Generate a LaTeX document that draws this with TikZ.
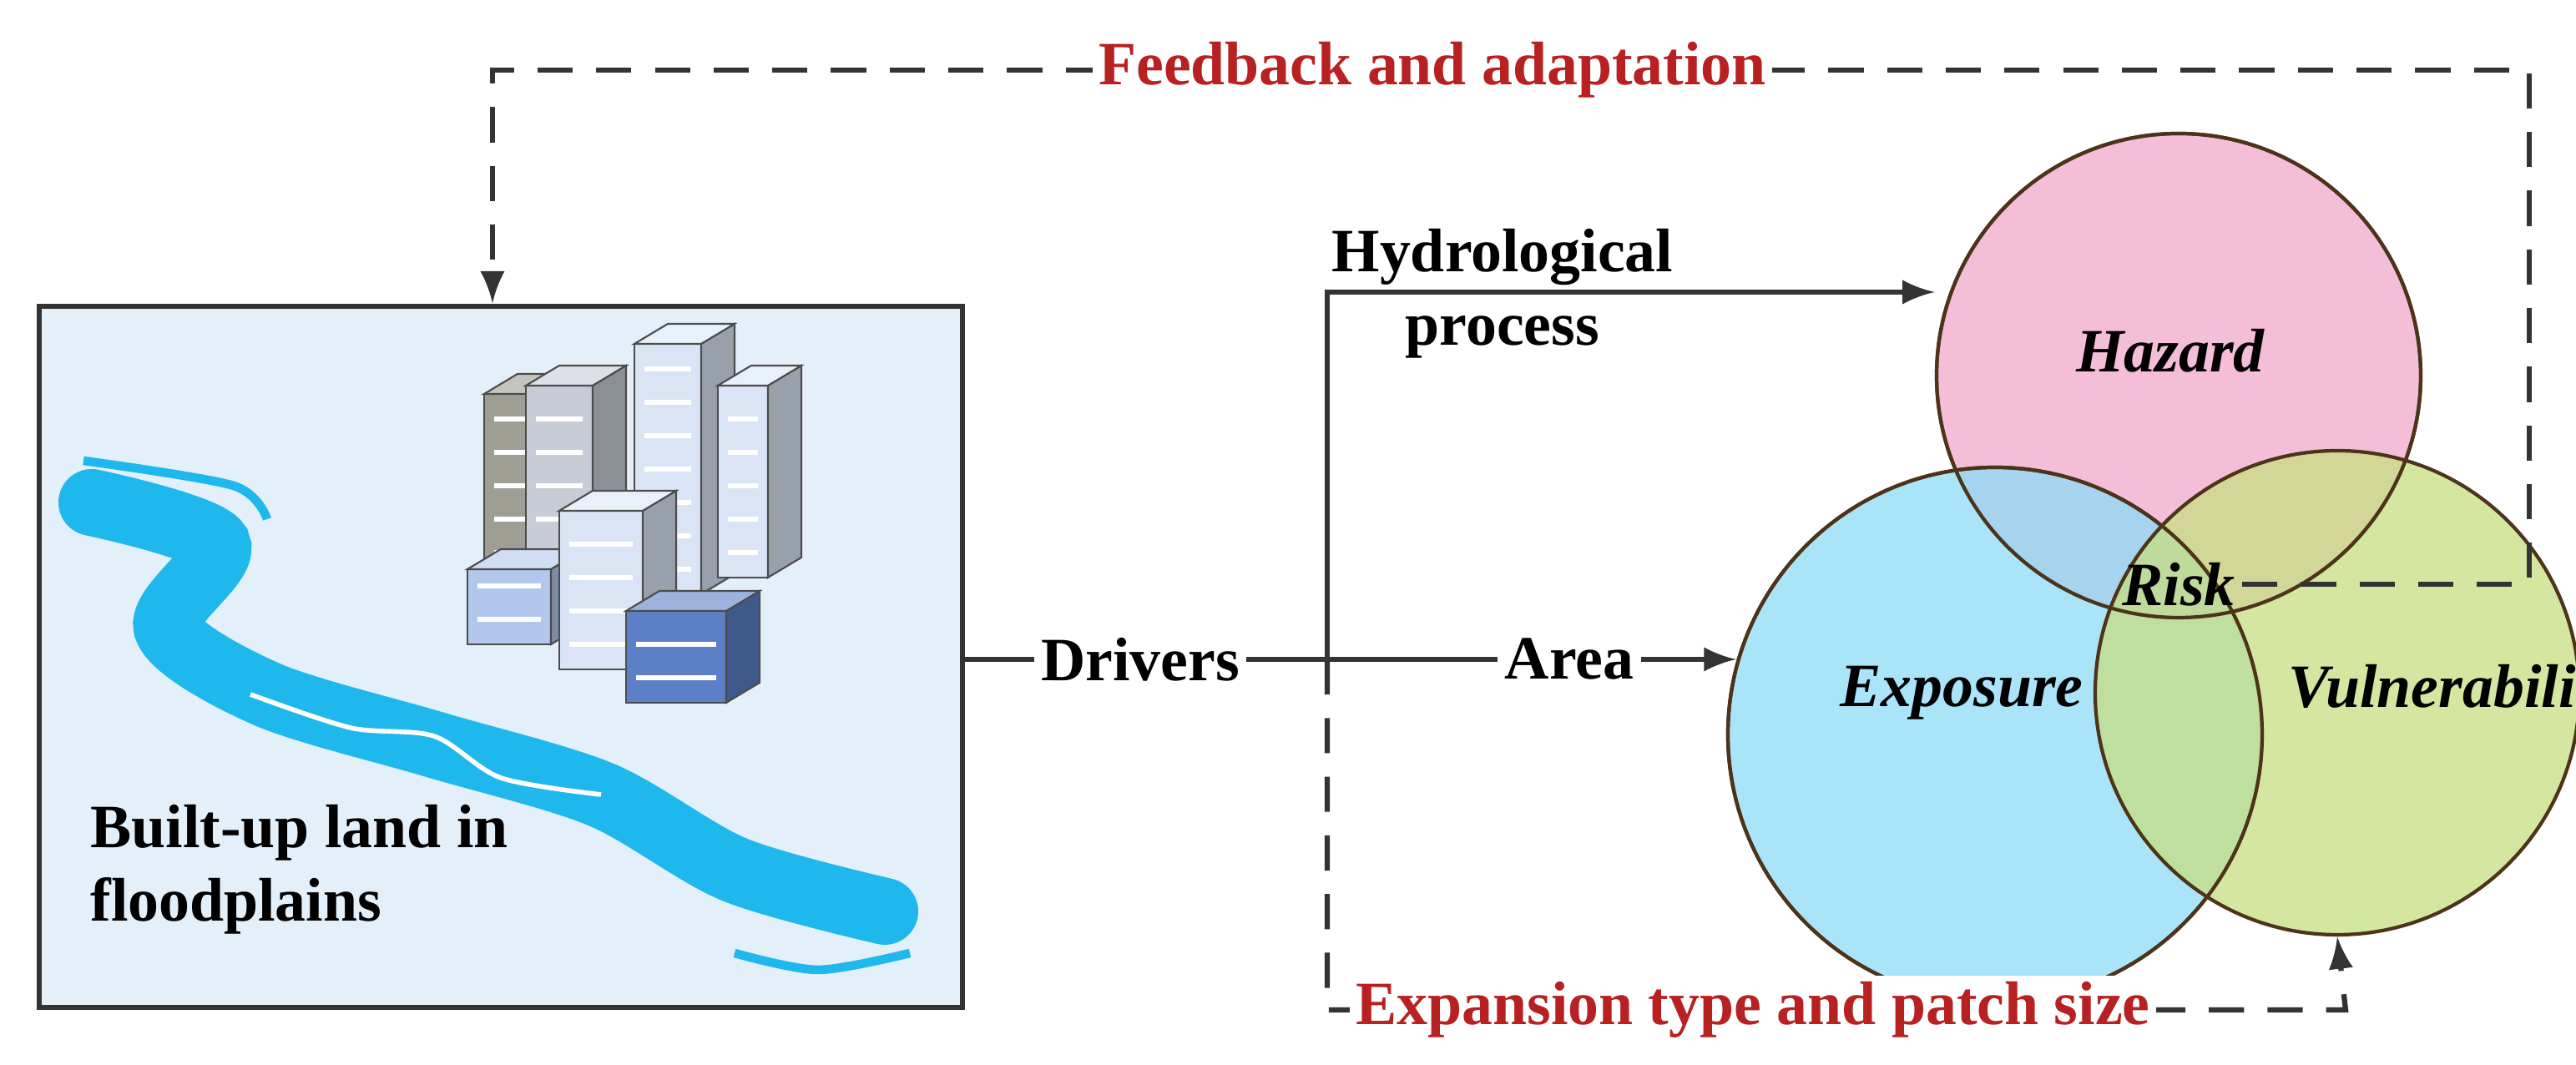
\documentclass[tikz,border=0pt]{standalone}
\usepackage{fontspec}
\setmainfont{Liberation Serif}
\usetikzlibrary{positioning}
\definecolor{darkred}{rgb}{0.72,0.13,0.13}
\definecolor{boxblue}{rgb}{0.89,0.94,0.98}
\definecolor{riverblue}{rgb}{0.12,0.72,0.93}
\definecolor{hazpink}{rgb}{0.94,0.66,0.80}
\definecolor{expblue}{rgb}{0.55,0.86,0.96}
\definecolor{vulgreen}{rgb}{0.78,0.87,0.50}
\definecolor{lineg}{rgb}{0.2,0.2,0.2}
\definecolor{bldgrey}{rgb}{0.62,0.62,0.58}
\definecolor{bldlight}{rgb}{0.78,0.80,0.84}
\definecolor{bldpale}{rgb}{0.85,0.90,0.96}
\definecolor{bldmid}{rgb}{0.70,0.78,0.92}
\definecolor{blddark}{rgb}{0.36,0.50,0.78}
\tikzset{
  lbl/.style={font=\fontsize{10.5}{12.5}\selectfont\bfseries, align=center, inner sep=1pt},
  ilbl/.style={lbl, font=\fontsize{10.5}{12.5}\selectfont\bfseries\itshape},
  redlbl/.style={lbl, text=darkred, fill=white},
  solidarrow/.style={draw=lineg, line width=0.9pt, -latex},
  dasharrow/.style={draw=lineg, line width=0.9pt, dash pattern=on 6pt off 4pt, -latex},
  venn/.style={circle, draw=black!60!brown, line width=0.6pt, fill opacity=0.75, text opacity=1},
  bld/.style={draw=gray!60!black, line width=0.3pt},
}
\newcommand{\building}[5]{% x, y, width, height, colour
  \fill[bld, fill=#5] (#1,#2) rectangle ++(#3,#4);
  \fill[bld, fill=#5!70!black] (#1+#3,#2) -- ++(0.2,0.12) -- ++(0,#4) -- ++(-0.2,-0.12) -- cycle;
  \fill[bld, fill=#5!60!white] (#1,#2+#4) -- ++(#3,0) -- ++(0.2,0.12) -- ++(-#3,0) -- cycle;
  \foreach \r in {0.15,0.35,...,#4} {\draw[white, line width=0.9pt] (#1+0.06,#2+\r) -- ++(#3-0.12,0);}
}
\begin{document}
\begin{tikzpicture}[x=1cm, y=1cm]
    \useasboundingbox (0,6.38) rectangle (15.43,12.76);

    % left box
    \node[draw=lineg, line width=0.9pt, fill=boxblue, minimum width=5.53cm, minimum height=4.2cm,
          anchor=south west, inner sep=0pt] (land) at (0.22,6.71) {};
    % river
    \draw[riverblue, line width=0.4cm, line cap=round]
        plot[smooth] coordinates {(0.55,9.75) (1.3,9.5) (1.0,9.0) (1.6,8.6) (2.6,8.3) (3.6,8.0) (4.4,7.55) (5.3,7.3)};
    \draw[riverblue, line width=1.5pt] plot[smooth] coordinates {(0.5,10.0) (1.4,9.85) (1.6,9.65)};
    \draw[riverblue, line width=1.5pt] plot[smooth] coordinates {(4.4,7.05) (4.9,6.95) (5.45,7.05)};
    \draw[white, line width=0.8pt] plot[smooth] coordinates {(1.5,8.6) (2.1,8.4) (2.6,8.35) (3.0,8.1) (3.6,8.0)};
    % buildings
    \building{2.9}{9.3}{0.35}{1.1}{bldgrey}
    \building{3.15}{9.1}{0.4}{1.35}{bldlight}
    \building{3.8}{9.2}{0.4}{1.5}{bldpale}
    \building{4.3}{9.3}{0.3}{1.15}{bldpale}
    \building{2.8}{8.9}{0.5}{0.45}{bldmid}
    \building{3.35}{8.75}{0.5}{0.95}{bldpale}
    \building{3.75}{8.55}{0.6}{0.55}{blddark}
    \node[lbl, anchor=west, align=left] (landtxt) at (0.5,7.55) {Built-up land in\\floodplains};

    % Venn circles
    \node[venn, fill=hazpink, minimum size=2.9cm] (haz) at (13.05,10.51) {};
    \node[venn, fill=expblue, minimum size=3.2cm] (exp) at (11.95,8.36) {};
    \node[venn, fill=vulgreen, minimum size=2.9cm] (vul) at (14.0,8.61) {};
    \draw[black!60!brown, line width=0.6pt] (haz) circle (1.45);
    \draw[black!60!brown, line width=0.6pt] (exp) circle (1.6);
    \node[ilbl] (hazt) at (13.0,10.66) {Hazard};
    \node[ilbl] (expt) at (11.75,8.61) {Exposure};
    \node[ilbl] (vult) at (14.7,8.61) {Vulnerability};
    \node[ilbl] (risk) at (13.05,9.26) {Risk};

    % drivers
    \node[lbl, fill=white] (drv) at (6.83,8.81) {Drivers};
    \node[lbl] (area) at (9.4,8.81) {Area};
    \node[lbl] (hydro) at (9.0,11.0) {Hydrological\\process};
    \coordinate (split) at (7.95,8.81);
    \coordinate (upcorner) at (7.95,11.01);
    \coordinate (lowcorner) at (7.95,6.71);
    \coordinate (vulbot) at (14.05,6.71);
    \coordinate (expin) at (10.4,8.81);
    \draw[draw=lineg, line width=0.9pt] (land.east |- drv) -- (drv.west);
    \draw[draw=lineg, line width=0.9pt] (drv.east) -- (area.west);
    \draw[solidarrow] (area.east) -- (expin);
    \draw[solidarrow] (split) -- (upcorner) -- (haz.west |- upcorner);
    \draw[dasharrow] (split) -- (lowcorner) -- (vulbot) -- (vul.south);
    \node[redlbl] (exptxt) at (10.5,6.71) {Expansion type and patch size};

    % feedback loop
    \coordinate (fbright) at (15.15,9.26);
    \coordinate (fbtopr) at (15.15,12.34);
    \coordinate (fbtopl) at (2.95,12.34);
    \draw[dasharrow] (risk.east) -- (fbright) -- (fbtopr) -- (fbtopl) -- (land.north -| fbtopl);
    \node[redlbl] (fbtxt) at (8.58,12.34) {Feedback and adaptation};
\end{tikzpicture}
\end{document}
